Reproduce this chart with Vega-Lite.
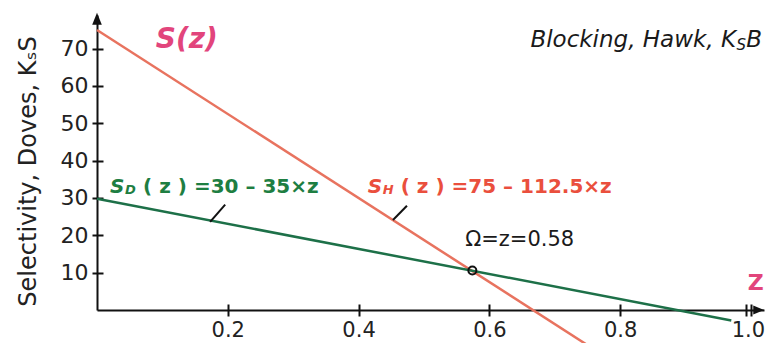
{
  "$schema": "https://vega.github.io/schema/vega-lite/v6.json",
  "width": 667,
  "height": 295,
  "autosize": {"type": "none"},
  "padding": {"left": 97, "top": 15, "right": 1, "bottom": 33},
  "background": "white",
  "config": {"view": {"stroke": null}, "font": "DejaVu Sans", "axis": {"grid": false}},
  "resolve": {"axis": {"x": "independent", "y": "independent"}},
  "encoding": {
    "x": {"field": "z", "type": "quantitative", "scale": {"domain": [0, 1.02], "nice": false, "zero": false}, "axis": null},
    "y": {"field": "S", "type": "quantitative", "scale": {"domain": [0, 79], "nice": false, "zero": false}, "axis": null}
  },
  "layer": [
    {
      "data": {"values": [
        {"series": "Hawk", "z": 0, "S": 75},
        {"series": "Hawk", "z": 0.75, "S": -9.4},
        {"series": "Dove", "z": 0, "S": 29.8},
        {"series": "Dove", "z": 0.97, "S": -2.8}
      ]},
      "mark": {"type": "line", "strokeWidth": 2.5, "clip": false},
      "encoding": {
        "x": {"field": "z", "type": "quantitative", "scale": {"domain": [0, 1.02], "nice": false, "zero": false},
          "axis": {"orient": "bottom", "values": [0.2, 0.4, 0.6, 0.8, 0.993, 1.0], "format": ".1f",
            "labelExpr": "datum.value > 0.99 && datum.value < 0.999 ? '' : datum.label",
            "labelOffset": {"condition": {"test": "datum.value >= 0.999", "value": -3}, "value": 0},
            "title": null, "domainColor": "#111", "domainWidth": 2, "tickColor": "#111", "tickWidth": 2, "tickSize": 6,
            "labelFontSize": 21, "labelColor": "#222", "labelPadding": 3, "labelFont": "DejaVu Sans", "labelFlush": false, "labelOverlap": false, "labelBound": false}},
        "y": {"field": "S", "type": "quantitative", "scale": {"domain": [0, 79], "nice": false, "zero": false},
          "axis": {"orient": "left", "values": [10, 20, 30, 40, 50, 60, 70], "title": "Selectivity, Doves, KₛS",
            "titleFontSize": 24, "titleFontWeight": "normal", "titleColor": "#222", "titlePadding": 20, "titleFont": "DejaVu Sans", "titleY": 156,
            "domainColor": "#111", "domainWidth": 2, "tickColor": "#111", "tickWidth": 2, "tickSize": 5,
            "labelFontSize": 22, "labelColor": "#222", "labelPadding": 4, "labelFont": "DejaVu Sans", "labelFlush": false, "labelOverlap": false}},
        "color": {"field": "series", "type": "nominal", "scale": {"domain": ["Hawk", "Dove"], "range": ["#e8735f", "#1d7048"]}, "legend": null}
      }
    },
    {
      "data": {"values": [{"z": 0, "S": 78}]},
      "mark": {"type": "point", "shape": "M-0.8,1L0,-1L0.8,1Z", "filled": true, "color": "#111", "opacity": 1, "size": 144},
      "encoding": {
        "x": {"field": "z", "type": "quantitative", "scale": {"domain": [0, 1.02], "nice": false, "zero": false},
          "axis": {"orient": "bottom", "values": [0.2, 0.4, 0.6, 0.8, 0.993, 1.0], "labels": false, "domain": false, "title": null,
            "tickColor": "#111", "tickWidth": 2, "tickSize": -6}},
        "y": {"field": "S", "type": "quantitative", "scale": {"domain": [0, 79], "nice": false, "zero": false},
          "axis": {"orient": "left", "values": [10, 20, 30, 40, 50, 60, 70], "labels": false, "domain": false, "title": null,
            "tickColor": "#111", "tickWidth": 2, "tickSize": -6}}
      }
    },
    {
      "data": {"values": [{"z": 1.012, "S": 0}]},
      "mark": {"type": "point", "shape": "M-1,-0.8L1,0L-1,0.8Z", "filled": true, "color": "#111", "opacity": 1, "size": 121}
    },
    {
      "data": {"values": [
        {"z": 0.173, "S": 23.6, "z2": 0.196, "S2": 28.2},
        {"z": 0.4526, "S": 24.1, "z2": 0.474, "S2": 27.9}
      ]},
      "mark": {"type": "rule", "color": "#111", "strokeWidth": 2},
      "encoding": {
        "x2": {"field": "z2"},
        "y2": {"field": "S2"}
      }
    },
    {
      "data": {"values": [{"z": 0.574, "S": 10.6}]},
      "mark": {"type": "point", "filled": false, "color": "#111", "strokeWidth": 2, "size": 64, "opacity": 1}
    },
    {
      "data": {"values": [{"z": 0.09, "S": 72.4, "label": "S(z)"}]},
      "mark": {"type": "text", "align": "left", "baseline": "middle", "fontSize": 28, "fontWeight": "bold", "fontStyle": "italic", "color": "#e2457c"},
      "encoding": {"text": {"field": "label"}}
    },
    {
      "data": {"values": [{"z": 1.017, "S": 72.4, "label": "B"}]},
      "mark": {"type": "text", "align": "right", "baseline": "middle", "fontSize": 23, "fontStyle": "italic", "color": "#1a1a1a"},
      "encoding": {"text": {"field": "label"}}
    },
    {
      "data": {"values": [{"z": 1.017, "S": 72.4, "label": "S"}]},
      "mark": {"type": "text", "align": "right", "baseline": "middle", "fontSize": 15, "fontStyle": "italic", "color": "#1a1a1a", "dx": -16, "dy": 5},
      "encoding": {"text": {"field": "label"}}
    },
    {
      "data": {"values": [{"z": 1.017, "S": 72.4, "label": "Blocking, Hawk, K"}]},
      "mark": {"type": "text", "align": "right", "baseline": "middle", "fontSize": 23, "fontStyle": "italic", "color": "#1a1a1a", "dx": -26},
      "encoding": {"text": {"field": "label"}}
    },
    {
      "data": {"values": [{"z": 0.02, "S": 33, "label": "S"}]},
      "mark": {"type": "text", "align": "left", "baseline": "middle", "fontSize": 20, "fontWeight": "bold", "fontStyle": "italic", "color": "#1e7e42"},
      "encoding": {"text": {"field": "label"}}
    },
    {
      "data": {"values": [{"z": 0.02, "S": 33, "label": "D"}]},
      "mark": {"type": "text", "align": "left", "baseline": "middle", "fontSize": 13, "fontWeight": "bold", "fontStyle": "italic", "color": "#1e7e42", "dx": 15, "dy": 3},
      "encoding": {"text": {"field": "label"}}
    },
    {
      "data": {"values": [{"z": 0.02, "S": 33, "label": "( z ) =30 – 35×z"}]},
      "mark": {"type": "text", "align": "left", "baseline": "middle", "fontSize": 20, "fontWeight": "bold", "color": "#1e7e42", "dx": 33},
      "encoding": {"text": {"field": "label"}}
    },
    {
      "data": {"values": [{"z": 0.414, "S": 33, "label": "S"}]},
      "mark": {"type": "text", "align": "left", "baseline": "middle", "fontSize": 20, "fontWeight": "bold", "fontStyle": "italic", "color": "#ea4f3d"},
      "encoding": {"text": {"field": "label"}}
    },
    {
      "data": {"values": [{"z": 0.414, "S": 33, "label": "H"}]},
      "mark": {"type": "text", "align": "left", "baseline": "middle", "fontSize": 13, "fontWeight": "bold", "fontStyle": "italic", "color": "#ea4f3d", "dx": 15, "dy": 3},
      "encoding": {"text": {"field": "label"}}
    },
    {
      "data": {"values": [{"z": 0.414, "S": 33, "label": "( z ) =75 – 112.5×z"}]},
      "mark": {"type": "text", "align": "left", "baseline": "middle", "fontSize": 20, "fontWeight": "bold", "color": "#ea4f3d", "dx": 33},
      "encoding": {"text": {"field": "label"}}
    },
    {
      "data": {"values": [{"z": 0.563, "S": 18.8, "label": "Ω=z=0.58"}]},
      "mark": {"type": "text", "align": "left", "baseline": "middle", "fontSize": 21, "color": "#1a1a1a"},
      "encoding": {"text": {"field": "label"}}
    },
    {
      "data": {"values": [{"z": 0.995, "S": 7.2, "label": "Z"}]},
      "mark": {"type": "text", "align": "left", "baseline": "middle", "fontSize": 22, "fontWeight": "bold", "color": "#e2457c"},
      "encoding": {"text": {"field": "label"}}
    }
  ]
}
